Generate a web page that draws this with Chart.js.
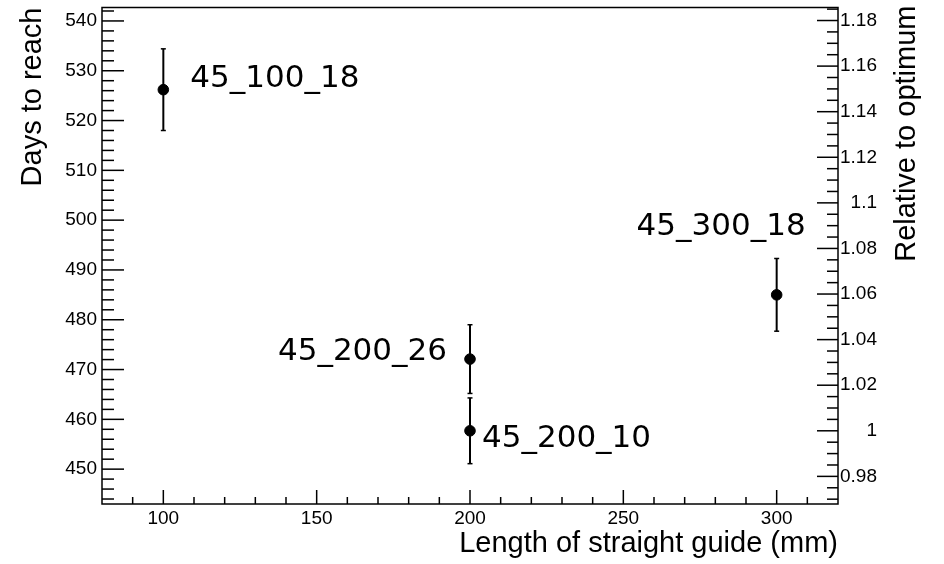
<!DOCTYPE html>
<html>
<head>
<meta charset="utf-8">
<script src="https://cdn.jsdelivr.net/npm/chart.js@4.4.1/dist/chart.umd.min.js"></script>
<style>
  html, body { margin: 0; padding: 0; background: #fff; }
  #wrap { width: 944px; height: 564px; }
</style>
</head>
<body>
<div id="wrap"><canvas id="chart" width="944" height="564"></canvas></div>
<script>
// guide configurations (length of straight guide vs days to reach)
const configNames = ['45_100_18', '45_200_26', '45_200_10', '45_300_18'];
const guideLength = [100, 200, 200, 300];
const daysToReach = [526.2, 472.1, 457.7, 485.0];
const daysError = [8.2, 6.9, 6.6, 7.3];

// axis ticks
const xTicks = [100, 150, 200, 250, 300];
const yTicks = [450, 460, 470, 480, 490, 500, 510, 520, 530, 540];
const y2Ticks = [0.98, 1, 1.02, 1.04, 1.06, 1.08, 1.1, 1.12, 1.14, 1.16, 1.18];

// right axis is relative to the best configuration
const optimum = Math.min(...daysToReach);
const yMin = 443, yMax = 542.7;

// where each name sits next to its point (pixels)
const labelPlacement = [
  { dx: 27, dy: -3, align: 'left' },
  { dx: -23, dy: 1, align: 'right' },
  { dx: 12, dy: 16, align: 'left' },
  { dx: 29, dy: -60, align: 'right' }
];

const SANS = "'Liberation Sans', Arial, Helvetica, sans-serif";
const tickFont = { family: SANS, size: 19 };

const points = guideLength.map((x, i) => ({ x: x, y: daysToReach[i] }));

// no extra room for half labels at the axis ends
const noEndPadding = (axis) => {
  axis.paddingTop = 0;
  axis.paddingBottom = 0;
  axis.paddingLeft = 0;
  axis.paddingRight = 0;
};

// inward ticks, frame, error bars, names and the right title
const rootStyle = {
  id: 'rootStyle',
  afterDatasetsDraw(chart) {
    const ctx = chart.ctx;
    const area = chart.chartArea;
    const xs = chart.scales.x, ys = chart.scales.y, y2 = chart.scales.y2;
    ctx.save();
    ctx.strokeStyle = '#000';
    ctx.lineWidth = 1.5;

    const tick = (x1, y1, x2, y2p) => {
      ctx.beginPath();
      ctx.moveTo(x1, y1);
      ctx.lineTo(x2, y2p);
      ctx.stroke();
    };

    // x axis: major every 50, minor every 10
    for (let v = 90; v < xs.max; v += 10) {
      const px = xs.getPixelForValue(v);
      const len = xTicks.includes(v) ? 14 : 7;
      tick(px, area.bottom, px, area.bottom - len);
    }
    // left axis: major every 10, minor every 2
    for (let v = 444; v <= yMax; v += 2) {
      const py = ys.getPixelForValue(v);
      const len = yTicks.includes(v) ? 22 : 12;
      tick(area.left, py, area.left + len, py);
    }
    // right axis: major every 0.02, minor every 0.005
    for (let k = 194; k * 0.005 <= y2.max; k++) {
      const v = k * 0.005;
      if (v < y2.min) continue;
      const py = y2.getPixelForValue(v);
      const len = (k % 4 === 0) ? 21 : 11;
      tick(area.right, py, area.right - len, py);
    }

    // frame
    ctx.strokeRect(area.left, area.top, area.right - area.left, area.bottom - area.top);

    // error bars
    ctx.lineWidth = 2;
    points.forEach((p, i) => {
      const px = xs.getPixelForValue(p.x);
      const top = ys.getPixelForValue(p.y + daysError[i]);
      const bot = ys.getPixelForValue(p.y - daysError[i]);
      tick(px, top, px, bot);
      ctx.lineWidth = 1.5;
      tick(px - 2.5, top, px + 2.5, top);
      tick(px - 2.5, bot, px + 2.5, bot);
      ctx.lineWidth = 2;
    });

    // configuration names
    ctx.fillStyle = '#000';
    ctx.font = "31px 'DejaVu Sans', Verdana, sans-serif";
    ctx.textBaseline = 'alphabetic';
    points.forEach((p, i) => {
      const lp = labelPlacement[i];
      const px = xs.getPixelForValue(p.x);
      const py = ys.getPixelForValue(p.y);
      ctx.textAlign = lp.align;
      ctx.fillText(configNames[i], px + lp.dx, py + lp.dy);
    });

    // right title, reading bottom to top
    ctx.font = '29px ' + SANS;
    ctx.translate(area.right + 69, area.top - 2);
    ctx.rotate(-Math.PI / 2);
    ctx.textAlign = 'right';
    ctx.textBaseline = 'middle';
    ctx.fillText('Relative to optimum', 0, 0);
    ctx.restore();
  }
};

const ctx = document.getElementById('chart').getContext('2d');
new Chart(ctx, {
  type: 'scatter',
  data: {
    datasets: [{
      label: 'Days to reach',
      data: points,
      backgroundColor: '#000',
      borderColor: '#000',
      pointRadius: 5.3,
      pointHoverRadius: 5.3
    }]
  },
  options: {
    responsive: false,
    animation: false,
    devicePixelRatio: 1,
    layout: { padding: { top: 7.5, right: 67, bottom: 0, left: 0 } },
    plugins: { legend: { display: false }, tooltip: { enabled: false } },
    scales: {
      x: {
        type: 'linear',
        min: 80,
        max: 320,
        grid: { display: false, drawTicks: false },
        border: { display: false },
        afterBuildTicks: (axis) => { axis.ticks = xTicks.map(v => ({ value: v })); },
        afterFit: (axis) => { axis.height = 60; noEndPadding(axis); },
        ticks: { font: tickFont, color: '#000', padding: 3, maxRotation: 0 },
        title: {
          display: true,
          text: 'Length of straight guide (mm)',
          align: 'end',
          color: '#000',
          font: { family: SANS, size: 29 },
          padding: { top: 0, bottom: 2.6 }
        }
      },
      y: {
        type: 'linear',
        position: 'left',
        min: yMin,
        max: yMax,
        grid: { display: false, drawTicks: false },
        border: { display: false },
        afterBuildTicks: (axis) => { axis.ticks = yTicks.map(v => ({ value: v })); },
        afterFit: (axis) => { axis.width = 102; noEndPadding(axis); },
        ticks: { font: tickFont, color: '#000', padding: 5 },
        title: {
          display: true,
          text: 'Days to reach',
          align: 'end',
          color: '#000',
          font: { family: SANS, size: 29 },
          padding: { top: 15.6, bottom: 0 }
        }
      },
      y2: {
        type: 'linear',
        position: 'right',
        min: yMin / optimum,
        max: yMax / optimum,
        grid: { display: false, drawTicks: false },
        border: { display: false },
        afterBuildTicks: (axis) => { axis.ticks = y2Ticks.map(v => ({ value: v })); },
        afterFit: (axis) => { axis.width = 39; noEndPadding(axis); },
        ticks: {
          font: tickFont,
          color: '#000',
          crossAlign: 'far',
          callback: (v) => String(Math.round(v * 100) / 100)
        }
      }
    }
  },
  plugins: [rootStyle]
});
</script>
</body>
</html>
